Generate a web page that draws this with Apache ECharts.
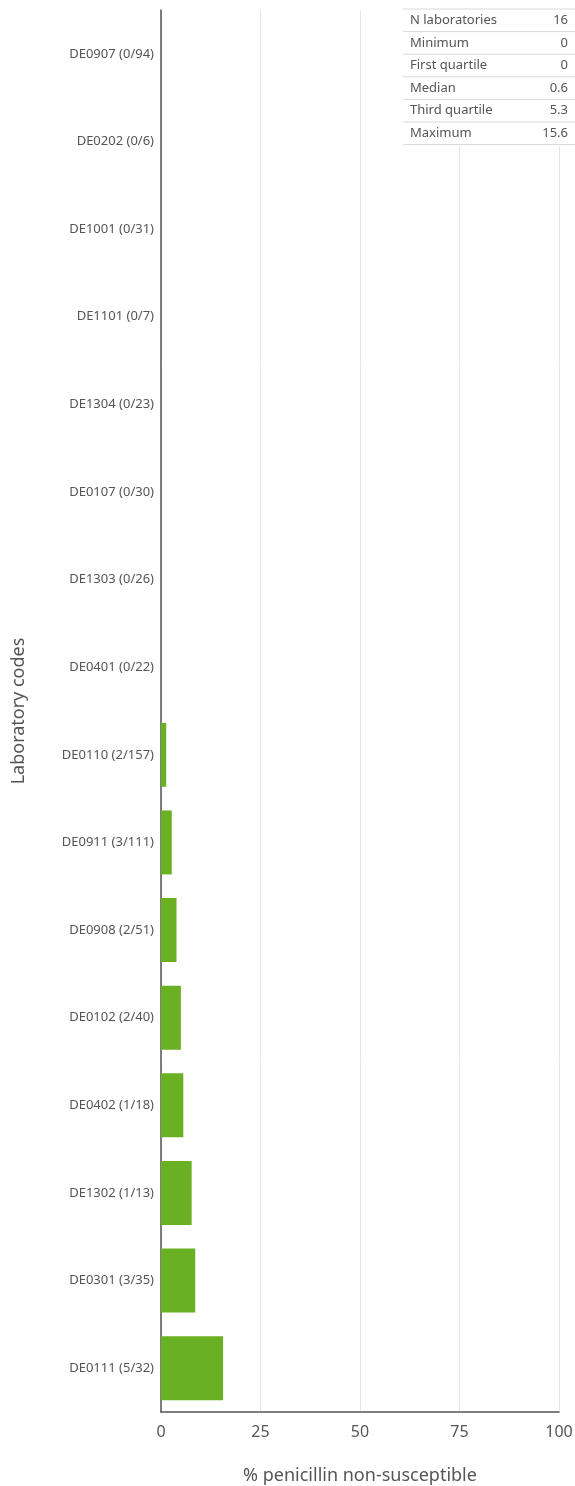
<!DOCTYPE html>
<html><head><meta charset="utf-8">
<script src="https://cdn.jsdelivr.net/npm/echarts@6/dist/echarts.min.js"></script>
<style>html,body{margin:0;padding:0;background:#fff}#c{width:575px;height:1486px}</style>
</head><body><div id="c"></div>
<script>
const categories = ["DE0907 (0/94)","DE0202 (0/6)","DE1001 (0/31)","DE1101 (0/7)","DE1304 (0/23)","DE0107 (0/30)","DE1303 (0/26)","DE0401 (0/22)","DE0110 (2/157)","DE0911 (3/111)","DE0908 (2/51)","DE0102 (2/40)","DE0402 (1/18)","DE1302 (1/13)","DE0301 (3/35)","DE0111 (5/32)"];
const values = [0,0,0,0,0,0,0,0,1.3,2.7,3.9,5.0,5.6,7.7,8.6,15.6];
const xTicks = [0,25,50,75,100];
const statLabels = ["N laboratories","Minimum","First quartile","Median","Third quartile","Maximum"];
const statValues = ["16","0","0","0.6","5.3","15.6"];

const FONT = "'Noto Sans',sans-serif";
const chart = echarts.init(document.getElementById('c'), null, {renderer:'canvas'});

const tableTop = 9, rowH = 22.6, tLeft = 403, tRight = 575;
const graphics = [{type:'rect', z:100, shape:{x:tLeft,y:tableTop-2,width:tRight-tLeft,height:rowH*statLabels.length+4}, style:{fill:'#fff'}}];
for (let i = 0; i <= statLabels.length; i++) {
  graphics.push({type:'line', z:101, shape:{x1:tLeft,y1:tableTop+i*rowH,x2:tRight,y2:tableTop+i*rowH}, style:{stroke:'#d9d9d9',lineWidth:1}});
}
statLabels.forEach((l,i)=>{
  graphics.push({type:'text', z:101, x:410, y:tableTop+i*rowH+rowH/2, style:{text:l, fill:'#555', font:"13px "+FONT, textVerticalAlign:'middle', textAlign:'left'}});
  graphics.push({type:'text', z:101, x:568, y:tableTop+i*rowH+rowH/2, style:{text:statValues[i], fill:'#555', font:"13px "+FONT, textVerticalAlign:'middle', textAlign:'right'}});
});

chart.setOption({
  animation:false,
  grid:{left:161,right:16,top:10,bottom:74,containLabel:false,outerBoundsMode:'none'},
  xAxis:{type:'value',min:0,max:100,interval:25,
    name:'% penicillin non-susceptible',nameLocation:'middle',nameGap:55,
    nameTextStyle:{fontSize:18,color:'#555',fontFamily:FONT},
    axisLine:{show:true,lineStyle:{color:'#555',width:1.5}},
    axisTick:{show:false},
    axisLabel:{fontSize:16,color:'#555',margin:12,fontFamily:FONT,formatter:v=>xTicks.includes(v)?String(v):''},
    splitLine:{show:true,lineStyle:{color:'#e6e6e6',width:1}}},
  yAxis:{type:'category',data:categories,inverse:true,
    name:'Laboratory codes',nameLocation:'middle',nameGap:133,nameRotate:90,
    nameTextStyle:{fontSize:18,color:'#555',fontFamily:FONT},
    axisLine:{show:true,lineStyle:{color:'#555',width:1.5}},
    axisTick:{show:false},
    axisLabel:{fontSize:13,color:'#555',margin:7,fontFamily:FONT},
    splitLine:{show:false}},
  series:[{type:'bar',data:values,barCategoryGap:'27%',itemStyle:{color:'#6ab023'}}],
  graphic:graphics
});
</script></body></html>
